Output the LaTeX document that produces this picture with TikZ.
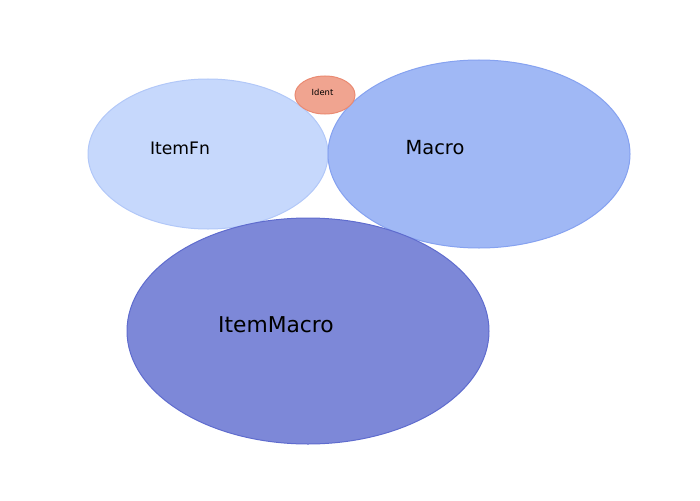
\documentclass[tikz,border=0pt]{standalone}
\usepackage{fontspec}
\setmainfont{DejaVu Sans}
\usetikzlibrary{shapes.geometric}
\definecolor{fnfill}{HTML}{C6D8FC}
\definecolor{fnline}{HTML}{B2C8F8}
\definecolor{macfill}{HTML}{A0B8F5}
\definecolor{macline}{HTML}{86A2F0}
\definecolor{imfill}{HTML}{7D88D8}
\definecolor{imline}{HTML}{5F6CCE}
\definecolor{idfill}{HTML}{F0A490}
\definecolor{idline}{HTML}{EA8A72}
\tikzset{
  blob/.style={ellipse, inner sep=0pt, line width=1pt},
  lbl/.style={inner sep=0pt, anchor=center, text=black}
}
\begin{document}
\begin{tikzpicture}[x=1pt,y=-1pt]
\useasboundingbox (0,0) rectangle (700,500);
\node[blob, draw=fnline, fill=fnfill, minimum width=240pt, minimum height=150pt] (itemfn) at (208,154) {};
\node[blob, draw=macline, fill=macfill, minimum width=302pt, minimum height=188pt] (macro) at (479,154) {};
\node[blob, draw=imline, fill=imfill, minimum width=362pt, minimum height=226pt] (itemmacro) at (308,331) {};
\node[blob, draw=idline, fill=idfill, minimum width=60pt, minimum height=38pt] (ident) at (325,95) {};
\node[lbl, font=\fontsize{17.2}{19}\selectfont] (tfn) at (180,148) {ItemFn};
\node[lbl, font=\fontsize{19.4}{22}\selectfont] (tmac) at (435,147.5) {Macro};
\node[lbl, font=\fontsize{21.8}{24}\selectfont] (tim) at (276,325) {ItemMacro};
\node[lbl, font=\fontsize{8.4}{10}\selectfont] (tid) at (322.5,92) {Ident};
\end{tikzpicture}
\end{document}
